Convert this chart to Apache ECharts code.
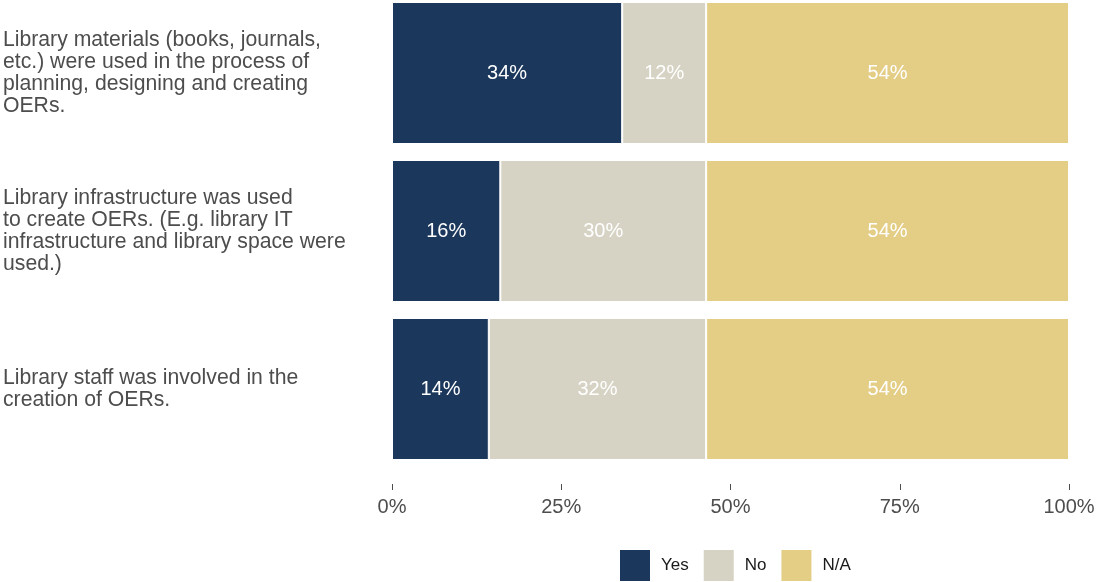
<!DOCTYPE html>
<html><head><meta charset="utf-8">
<script src="https://cdn.jsdelivr.net/npm/echarts@6/dist/echarts.min.js"></script>
<style>html,body{margin:0;padding:0;background:#fff}#c{width:1097px;height:582px}</style>
</head><body><div id="c"></div>
<script>
const categories = [
  "Library materials (books, journals,\netc.) were used in the process of\nplanning, designing and creating\nOERs.",
  "Library infrastructure was used\nto create OERs. (E.g. library IT\ninfrastructure and library space were\nused.)",
  "Library staff was involved in the\ncreation of OERs."
];
const seriesNames = ["Yes", "No", "N/A"];
const yesValues = [34.0, 16.0, 14.3];
const noValues = [12.4, 30.4, 32.1];
const naValues = [53.6, 53.6, 53.6];
const colors = ["#1c375c", "#d6d3c4", "#e4cd85"];
const xTicks = [0, 25, 50, 75, 100];

const chart = echarts.init(document.getElementById('c'));
const mk = (name, data, color) => ({
  name, type: 'bar', stack: 'total', data, barWidth: 142,
  itemStyle: { color, borderColor: '#ffffff', borderWidth: 1 },
  label: { show: true, position: 'inside', color: '#ffffff', fontSize: 20,
    fontFamily: 'Liberation Sans, Arial, sans-serif',
    formatter: p => Math.round(p.value) + '%' },
  emphasis: { disabled: true }
});
chart.setOption({
  animation: false,
  textStyle: { fontFamily: 'Liberation Sans, Arial, sans-serif' },
  grid: { left: 392, right: 28, top: -6, height: 474, outerBoundsMode: 'none', containLabel: false },
  legend: {
    data: seriesNames, top: 548, left: 618, padding: 0, itemWidth: 32, itemHeight: 33, itemGap: 13,
    icon: 'rect', textStyle: { fontSize: 17, color: '#1a1a1a', padding: [0, 0, 0, 5] }
  },
  xAxis: {
    type: 'value', min: 0, max: 100, interval: 25, offset: 16,
    axisLine: { show: false }, splitLine: { show: false },
    axisTick: { show: true, length: 6, lineStyle: { color: '#4d4d4d' } },
    axisLabel: { fontSize: 20, color: '#4d4d4d', margin: 13,
      formatter: v => xTicks.includes(v) ? v + '%' : '' }
  },
  yAxis: {
    type: 'category', data: categories, inverse: true,
    axisLine: { show: false }, axisTick: { show: false },
    axisLabel: { align: 'left', margin: 389, fontSize: 21.2, lineHeight: 22, color: '#4d4d4d', padding: [3, 0, 0, 0] }
  },
  series: [mk(seriesNames[0], yesValues, colors[0]), mk(seriesNames[1], noValues, colors[1]), mk(seriesNames[2], naValues, colors[2])]
});
</script></body></html>
